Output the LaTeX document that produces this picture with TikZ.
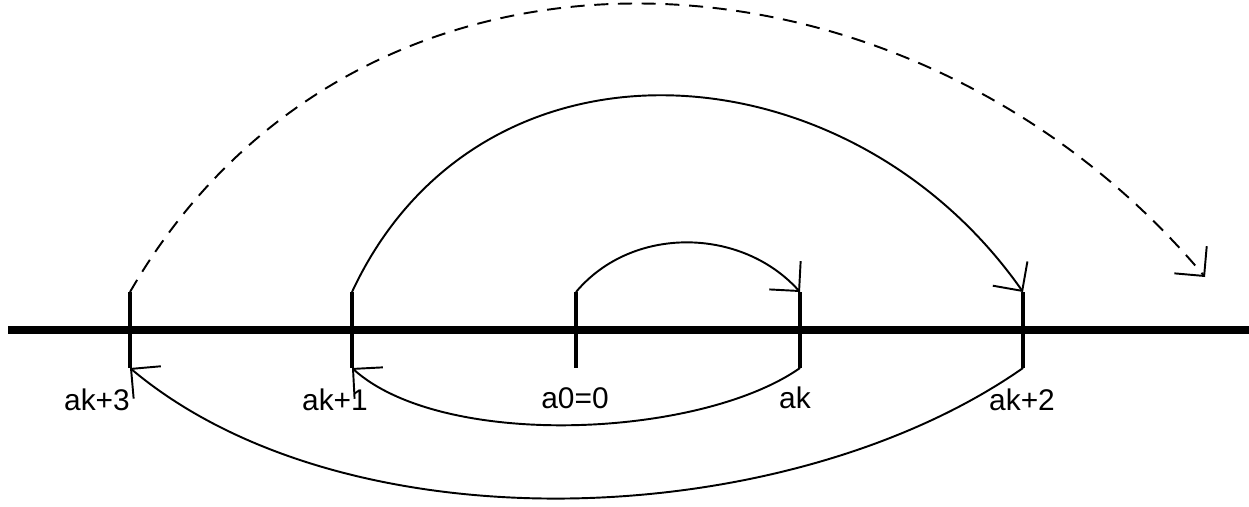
\documentclass[tikz,border=0pt]{standalone}
\usepackage{fontspec}
\setmainfont{Liberation Sans}
\usetikzlibrary{arrows.meta}

\tikzset{
    tickmark/.style={line width=2.8pt},
    jump/.style={line width=1.1pt, -{Straight Barb[angle=90:17pt]}},
    numlabel/.style={font=\fontsize{17}{20}\selectfont, anchor=base, inner sep=0pt}
}

\begin{document}
\begin{tikzpicture}

\useasboundingbox (0,0) rectangle (24.98,10.12);

% Number line
\draw[line width=4pt] (0.16,3.52) -- (24.98,3.52);

% Ticks
\draw[tickmark] (2.60,4.28) coordinate (ak3t) -- (2.60,2.76) coordinate (ak3b);
\draw[tickmark] (7.04,4.28) coordinate (ak1t) -- (7.04,2.76) coordinate (ak1b);
\draw[tickmark] (11.52,4.28) coordinate (a0t) -- (11.52,2.76) coordinate (a0b);
\draw[tickmark] (16.00,4.28) coordinate (akt) -- (16.00,2.76) coordinate (akb);
\draw[tickmark] (20.46,4.28) coordinate (ak2t) -- (20.46,2.76) coordinate (ak2b);

% Labels
\node[numlabel] (lak3) at (1.94,1.92) {ak+3};
\node[numlabel] (lak1) at (6.70,1.92) {ak+1};
\node[numlabel] (la0) at (11.50,1.96) {a0=0};
\node[numlabel] (lak) at (15.90,1.96) {ak};
\node[numlabel] (lak2) at (20.44,1.92) {ak+2};

% Jumps above the line
\coordinate (dend) at (24.10,4.58);
\draw[jump] (a0t) to[out=50,in=132] (akt);
\draw[jump] (ak1t) to[out=65,in=125,looseness=1.16] (ak2t);
\draw[jump, dash pattern=on 8pt off 5.5pt] (ak3t) to[out=60,in=130,looseness=1.09] (dend);

% Jumps below the line
\draw[jump] (akb) to[out=-145,in=-42,looseness=0.7] (ak1b);
\draw[jump] (ak2b) to[out=-145,in=-40,looseness=0.82] (ak3b);

\end{tikzpicture}
\end{document}
